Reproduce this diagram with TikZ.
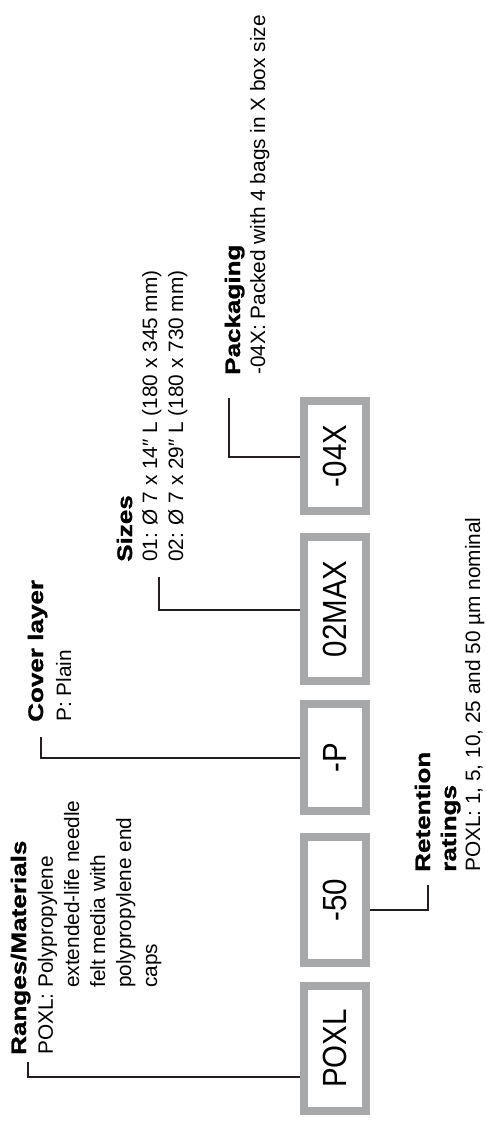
\documentclass[tikz,border=0pt]{standalone}
\usepackage{fontspec}
\setmainfont{Liberation Sans}
\newfontfamily\headfont[FakeStretch=1.24, FakeBold=1.2]{Liberation Sans}
\newfontfamily\codefont[FakeStretch=0.88]{Liberation Sans}
\usepackage{xcolor}
\usepackage{tikz}
\usetikzlibrary{positioning, calc}
\definecolor{boxgray}{RGB}{167,168,170}
\definecolor{inkblack}{RGB}{35,31,32}
% stacked caption lines, baseline on the first line
\newcommand{\captionlines}[1]{\begin{tabular}[t]{@{}l@{}}#1\end{tabular}}

\begin{document}
\begin{tikzpicture}[x=1pt, y=1pt,
  codebox/.style={draw=boxgray, line width=8pt, fill=white, minimum height=62pt,
    inner sep=0pt, font=\codefont\fontsize{33.5}{36}\selectfont},
  leader/.style={draw=inkblack, line width=1.5pt},
  heading/.style={anchor=base west, inner sep=0pt,
    font=\headfont\bfseries\fontsize{21}{26}\selectfont},
  detail/.style={anchor=base west, inner sep=0pt,
    font=\fontsize{20.8}{26}\selectfont}]
  \useasboundingbox (0,0) rectangle (487,1130);
  % the sheet lies on its side: layout is written left-to-right, then turned
  % landscape (u,v) -> page (487-v, u)
  \begin{scope}[shift={(487,0)}, rotate=90, transform shape]
    % order code boxes, v centre 152
    \node[codebox, minimum width=125pt] (poxl)  at (81.5,152) {POXL};
    \node[codebox, minimum width=126pt] (fifty) at (230,152)  {-50};
    \node[codebox, minimum width=107pt] (plain) at (372.5,152) {-P};
    \node[codebox, minimum width=144pt] (size)  at (521,152)  {02MAX};
    \node[codebox, minimum width=110pt] (pack)  at (674,152)  {-04X};

    % captions
    \node[heading] (rangeshead) at (75,461) {Ranges/Materials};
    \node[detail] (rangestext) at (75,434) {\captionlines{POXL: Polypropylene\\
      \phantom{POXL: }extended-life needle\\
      \phantom{POXL: }felt media with\\
      \phantom{POXL: }polypropylene end\\
      \phantom{POXL: }caps}};
    \node[heading] (rethead) at (258,57) {\captionlines{Retention\\ratings}};
    \node[detail] (rettext) at (258,7) {POXL: 1, 5, 10, 25 and 50 µm nominal};
    \node[heading] (coverhead) at (408,444) {Cover layer};
    \node[detail] (covertext) at (408,416) {P: Plain};
    \node[heading] (sizehead) at (568,355) {Sizes};
    \node[detail] (sizetext) at (568,330) {\captionlines{01: Ø 7 x 14″ L (180 x 345 mm)\\
      02: Ø 7 x 29″ L (180 x 730 mm)}};
    \node[heading] (packhead) at (755,247) {Packaging};
    \node[detail] (packtext) at (755,222) {-04X: Packed with 4 bags in X box size};

    % leaders: box edge -> bend -> short tick toward caption
    \coordinate (rangesbend) at (53,459);  \coordinate (rangestip) at (68,459);
    \coordinate (retbend)    at (220,59);  \coordinate (rettip)    at (245,59);
    \coordinate (coverbend)  at (372,446); \coordinate (covertip)  at (393,446);
    \coordinate (sizebend)   at (520,328); \coordinate (sizetip)   at (553,328);
    \coordinate (packbend)   at (673,258); \coordinate (packtip)   at (732,258);
    \draw[leader] (poxl.north -| rangesbend) -- (rangesbend) -- (rangestip);
    \draw[leader] (fifty.south -| retbend) -- (retbend) -- (rettip);
    \draw[leader] (plain.north -| coverbend) -- (coverbend) -- (covertip);
    \draw[leader] (size.north -| sizebend) -- (sizebend) -- (sizetip);
    \draw[leader] (pack.north -| packbend) -- (packbend) -- (packtip);
  \end{scope}
\end{tikzpicture}
\end{document}
